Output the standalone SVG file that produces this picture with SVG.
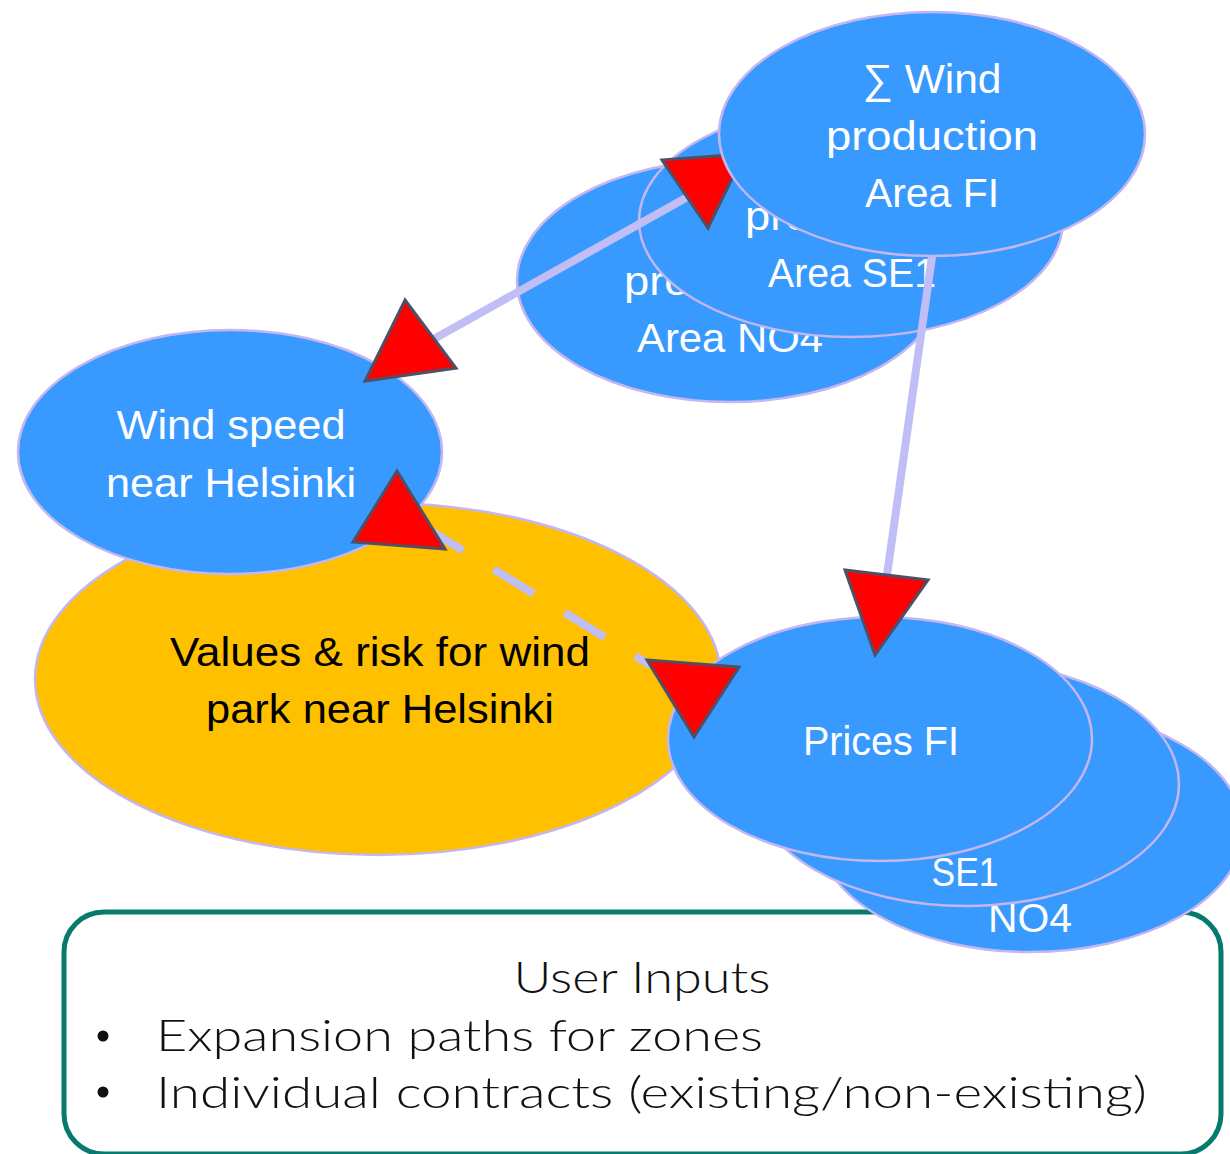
<svg xmlns="http://www.w3.org/2000/svg" width="1230" height="1154" viewBox="0 0 1230 1154">
<style>
.blue{fill:#3899ff;stroke:#c4b6f0;stroke-width:2.5}
.yel{fill:#ffc000;stroke:#c4b6f0;stroke-width:2.5}
.wt{font-family:"Liberation Sans",Arial,sans-serif;font-size:41px;fill:#fff;text-anchor:middle}
.bt{font-family:"Liberation Sans",Arial,sans-serif;font-size:41px;fill:#000;text-anchor:middle}
.ut{font-family:Lato,"Liberation Sans",sans-serif;font-weight:300;font-size:44px;fill:#111}
.conn{stroke:#c1bdf5;stroke-width:8;fill:none}
.head{fill:#ff0000;stroke:#4f4f66;stroke-width:3;stroke-linejoin:miter}
</style>
<rect width="1230" height="1154" fill="#fff"/>
<g id="user-inputs">
<rect x="64" y="912" width="1157" height="242" rx="40" ry="40" fill="#fff" stroke="#067a6c" stroke-width="5"/>
<text class="ut" x="642" y="993" text-anchor="middle" textLength="257" lengthAdjust="spacingAndGlyphs">User Inputs</text>
<circle cx="103" cy="1036" r="5.5" fill="#111"/>
<circle cx="103" cy="1092" r="5.5" fill="#111"/>
<text class="ut" x="156" y="1051" textLength="607" lengthAdjust="spacingAndGlyphs">Expansion paths for zones</text>
<text class="ut" x="156" y="1108" textLength="991" lengthAdjust="spacingAndGlyphs">Individual contracts (existing/non-existing)</text>
</g>
<g id="values-risk">
<ellipse class="yel" cx="378" cy="679" rx="343" ry="176"/>
<text class="bt" x="380" y="666" textLength="420" lengthAdjust="spacingAndGlyphs">Values &amp; risk for wind</text>
<text class="bt" x="380" y="723" textLength="348" lengthAdjust="spacingAndGlyphs">park near Helsinki</text>
</g>
<g id="wind-speed">
<ellipse class="blue" cx="230" cy="452" rx="212" ry="122"/>
<text class="wt" x="231" y="439" textLength="229" lengthAdjust="spacingAndGlyphs">Wind speed</text>
<text class="wt" x="231" y="497" textLength="250" lengthAdjust="spacingAndGlyphs">near Helsinki</text>
</g>
<g id="prices-no4">
<ellipse class="blue" cx="1030" cy="830" rx="213" ry="122"/>
<text class="wt" x="1030" y="932" textLength="84" lengthAdjust="spacingAndGlyphs">NO4</text>
</g>
<g id="prices-se1">
<ellipse class="blue" cx="966" cy="784" rx="213" ry="122"/>
<text class="wt" x="965" y="886" textLength="67" lengthAdjust="spacingAndGlyphs">SE1</text>
</g>
<g id="prices-fi">
<ellipse class="blue" cx="880" cy="739" rx="212" ry="122"/>
<text class="wt" x="881" y="755" textLength="156" lengthAdjust="spacingAndGlyphs">Prices FI</text>
</g>
<g id="wind-no4">
<ellipse class="blue" cx="730" cy="281" rx="213" ry="121"/>
<text class="wt" x="730" y="295" textLength="212" lengthAdjust="spacingAndGlyphs">production</text>
<text class="wt" x="730" y="352" textLength="186" lengthAdjust="spacingAndGlyphs">Area NO4</text>
</g>
<g id="wind-se1">
<ellipse class="blue" cx="851" cy="221" rx="212" ry="116"/>
<text class="wt" x="851" y="230" textLength="212" lengthAdjust="spacingAndGlyphs">production</text>
<text class="wt" x="852" y="287" textLength="168" lengthAdjust="spacingAndGlyphs">Area SE1</text>
</g>
<g id="connectors">
<line class="conn" x1="432" y1="340" x2="700" y2="190"/>
<line class="conn" x1="933" y1="250" x2="886" y2="582"/>
<line class="conn" x1="423" y1="526" x2="650" y2="665" stroke-dasharray="47 36"/>
<polygon class="head" points="662,160 744,154 708,228"/>
<polygon class="head" points="405,300 456,368 365,381"/>
<polygon class="head" points="397,471 445,549 353,542"/>
<polygon class="head" points="647,660 739,667 694,737"/>
<polygon class="head" points="845,570 928,580 875,655"/>
</g>
<g id="wind-fi">
<ellipse class="blue" cx="932" cy="134" rx="213" ry="122"/>
<text class="wt" x="932" y="93" textLength="139" lengthAdjust="spacingAndGlyphs">∑ Wind</text>
<text class="wt" x="932" y="150" textLength="212" lengthAdjust="spacingAndGlyphs">production</text>
<text class="wt" x="932" y="207" textLength="134" lengthAdjust="spacingAndGlyphs">Area FI</text>
</g>
</svg>
